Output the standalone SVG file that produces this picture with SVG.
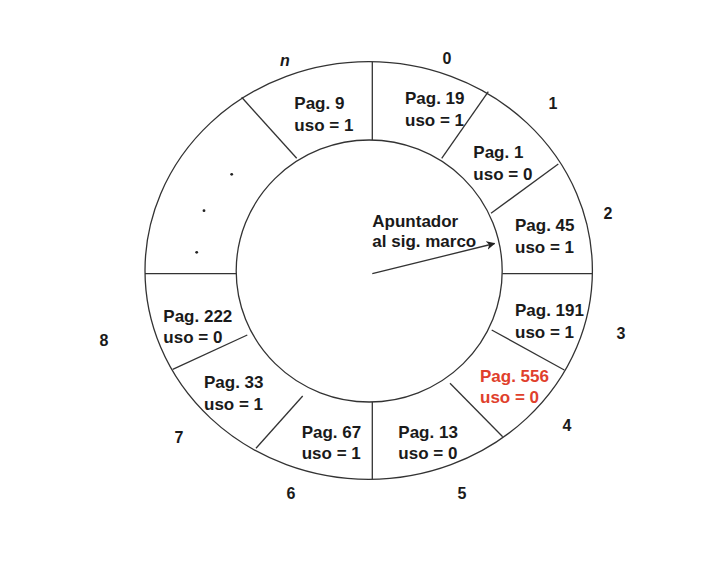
<svg xmlns="http://www.w3.org/2000/svg" width="704" height="564" viewBox="0 0 704 564">
<defs>
<style>
.ring{fill:none;stroke:#333;stroke-width:1.3}
.div{stroke:#333;stroke-width:1.3;fill:none}
.t{font-family:"Liberation Sans",Arial,sans-serif;font-weight:bold;font-size:17px;fill:#1a1a1a}
.red{fill:#e0402c}
.n{font-family:"Liberation Sans",Arial,sans-serif;font-weight:bold;font-size:16px;fill:#1a1a1a;text-anchor:middle;dominant-baseline:central}
.dot{fill:#222}
</style>
<marker id="ah" viewBox="0 0 10 10" refX="9" refY="5" markerWidth="9" markerHeight="9" markerUnits="userSpaceOnUse" orient="auto">
<path d="M0,0 L10,5 L0,10 L3,5 Z" fill="#222"/>
</marker>
</defs>
<rect width="704" height="564" fill="#fff"/>
<g id="ring">
<ellipse class="ring" cx="368.7" cy="270.5" rx="223.7" ry="208.8"/>
<ellipse class="ring" cx="369.2" cy="271" rx="133" ry="131"/>
</g>
<g id="connectors">
<line class="div" x1="372.3" y1="61.7" x2="372.3" y2="140"/>
<line class="div" x1="488.3" y1="91.7" x2="441.7" y2="158.3"/>
<line class="div" x1="558.3" y1="164" x2="491" y2="213.3"/>
<line class="div" x1="502.3" y1="273.7" x2="592.3" y2="273.7"/>
<line class="div" x1="491.7" y1="330" x2="564.3" y2="370"/>
<line class="div" x1="450" y1="383.3" x2="502.7" y2="436.7"/>
<line class="div" x1="372.3" y1="402" x2="372.3" y2="479.3"/>
<line class="div" x1="302.7" y1="396" x2="256" y2="448.3"/>
<line class="div" x1="247.3" y1="335" x2="172.7" y2="369.3"/>
<line class="div" x1="145" y1="273.7" x2="236" y2="273.7"/>
<line class="div" x1="241.7" y1="97.3" x2="296.7" y2="158.3"/>
<line class="div" x1="372.3" y1="273.7" x2="494.5" y2="243.5" marker-end="url(#ah)"/>
</g>
<g id="node-n"><text class="t" x="294.3" y="108.5">Pag. 9</text><text class="t" x="294.3" y="130.5">uso = 1</text></g>
<g id="node-0"><text class="t" x="405" y="103.5">Pag. 19</text><text class="t" x="405" y="125.5">uso = 1</text></g>
<g id="node-1"><text class="t" x="473.3" y="158">Pag. 1</text><text class="t" x="473.3" y="179.5">uso = 0</text></g>
<g id="node-2"><text class="t" x="515" y="231">Pag. 45</text><text class="t" x="515" y="252.7">uso = 1</text></g>
<g id="node-3"><text class="t" x="515" y="316">Pag. 191</text><text class="t" x="515" y="337.5">uso = 1</text></g>
<g id="node-4"><text class="t red" x="480" y="381.7">Pag. 556</text><text class="t red" x="480" y="403.3">uso = 0</text></g>
<g id="node-5"><text class="t" x="398.3" y="438.3">Pag. 13</text><text class="t" x="398.3" y="459.3">uso = 0</text></g>
<g id="node-6"><text class="t" x="301.7" y="438.3">Pag. 67</text><text class="t" x="301.7" y="459.3">uso = 1</text></g>
<g id="node-7"><text class="t" x="204" y="388.3">Pag. 33</text><text class="t" x="204" y="410">uso = 1</text></g>
<g id="node-8"><text class="t" x="163.3" y="321.7">Pag. 222</text><text class="t" x="163.3" y="343.3">uso = 0</text></g>
<g id="node-dots">
<circle class="dot" cx="231.7" cy="174.3" r="1.4"/>
<circle class="dot" cx="204" cy="210.7" r="1.4"/>
<circle class="dot" cx="196.7" cy="252.3" r="1.4"/>
</g>
<g id="pointer"><text class="t" x="372.3" y="226.7">Apuntador</text><text class="t" x="372.3" y="247">al sig. marco</text></g>
<g id="labels">
<text class="n" x="285" y="60" font-style="italic">n</text>
<text class="n" x="447" y="58">0</text>
<text class="n" x="553" y="103">1</text>
<text class="n" x="608" y="213">2</text>
<text class="n" x="621" y="333">3</text>
<text class="n" x="567" y="425">4</text>
<text class="n" x="462" y="493">5</text>
<text class="n" x="291" y="493">6</text>
<text class="n" x="179" y="437">7</text>
<text class="n" x="104" y="340">8</text>
</g>
</svg>
